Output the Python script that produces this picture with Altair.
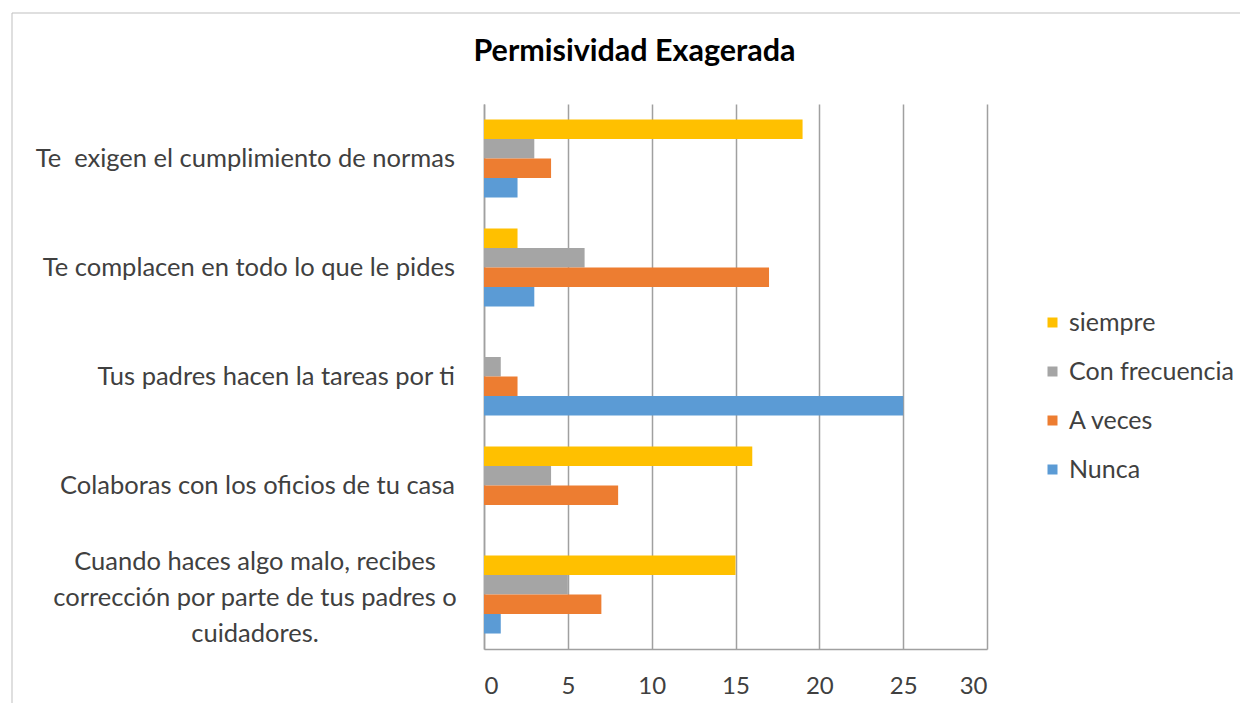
import altair as alt
import pandas as pd

categorias = [
    "Te  exigen el cumplimiento de normas",
    "Te complacen en todo lo que le pides",
    "Tus padres hacen la tareas por ti",
    "Colaboras con los oficios de tu casa",
    "Cuando haces algo malo, recibes corrección por parte de tus padres o cuidadores.",
]
etiquetas = [
    "Te\u00a0 exigen el cumplimiento de normas",
    "Te complacen en todo lo que le pides",
    "Tus padres hacen la tareas por ti",
    "Colaboras con los oficios de tu casa",
    "Cuando haces algo malo, recibes\ncorrección por parte de tus padres o\ncuidadores.",
]
series = ["siempre", "Con frecuencia", "A veces", "Nunca"]
colores = ["#FFC000", "#A5A5A5", "#ED7D31", "#5B9BD5"]

siempre = [19, 2, 0, 16, 15]
con_frecuencia = [3, 6, 1, 4, 5]
a_veces = [4, 17, 2, 8, 7]
nunca = [2, 3, 25, 0, 1]

valores = {"siempre": siempre, "Con frecuencia": con_frecuencia, "A veces": a_veces, "Nunca": nunca}
rows = []
for s in series:
    for c, v in zip(categorias, valores[s]):
        rows.append({"cat": c, "serie": s, "valor": v})
df = pd.DataFrame(rows)

lab_df = pd.DataFrame({"cat": categorias, "label": etiquetas, "multi": [False, False, False, False, True]})

FONT = "Lato"
TXT = "#404040"
GRID = "#A0A0A0"
FS = 25.5

yscale = alt.Scale(domain=categorias, paddingInner=0.284, paddingOuter=0.142)

border = alt.Chart(alt.Data(values=[{}])).mark_rect(
    fill=None, stroke="#BFBFBF", strokeWidth=1, clip=False
).encode(
    x=alt.value(-472), x2=alt.value(800), y=alt.value(-91), y2=alt.value(700)
)

bars = alt.Chart(df).mark_bar(size=19.5).encode(
    x=alt.X("valor:Q", scale=alt.Scale(domain=[0, 30]),
            axis=alt.Axis(values=[0, 5, 10, 15, 20, 25, 30], title=None, grid=True,
                          gridColor=GRID, gridWidth=1.5, domainColor=GRID, domainWidth=1.5,
                          ticks=False, labelPadding=25, labelFontSize=24, labelFont=FONT,
                          labelColor=TXT)),
    y=alt.Y("cat:N", scale=yscale, sort=categorias,
            axis=alt.Axis(title=None, labels=False, ticks=False, domainColor=GRID,
                          domainWidth=1.5, grid=False)),
    yOffset=alt.YOffset("serie:N", sort=series),
    color=alt.Color("serie:N", sort=series,
                    scale=alt.Scale(domain=series, range=colores),
                    legend=alt.Legend(title=None, orient="none", legendX=556, legendY=206,
                                      symbolType="square", symbolSize=100, symbolStrokeWidth=0,
                                      labelFontSize=25, labelFont=FONT, labelColor=TXT,
                                      labelLimit=400, rowPadding=23, labelOffset=4)),
)

lab_single = alt.Chart(lab_df).transform_filter("!datum.multi").mark_text(
    align="right", baseline="middle", fontSize=FS, font=FONT, color=TXT
).encode(
    y=alt.Y("cat:N", scale=yscale, sort=categorias),
    x=alt.value(-29),
    text="label:N",
)

lab_multi = alt.Chart(lab_df).transform_filter("datum.multi").mark_text(
    align="center", baseline="middle", fontSize=FS, font=FONT, color=TXT,
    lineBreak="\n", lineHeight=36, dy=-33
).encode(
    y=alt.Y("cat:N", scale=yscale, sort=categorias),
    x=alt.value(-229),
    text="label:N",
)

chart = alt.layer(border, bars, lab_single, lab_multi).properties(
    width=503, height=545,
    padding={"left": 476, "top": 96, "right": 253, "bottom": 54},
    autosize=alt.AutoSizeParams(type="none"),
    background="white",
    title=alt.TitleParams("Permisividad Exagerada", font=FONT, fontSize=30.5, fontWeight="bold",
                          color="#000000", anchor="middle", dx=-101, offset=-55),
).configure_view(stroke=None)

chart.save("out.html", embed_options={"renderer": "svg", "actions": False})
